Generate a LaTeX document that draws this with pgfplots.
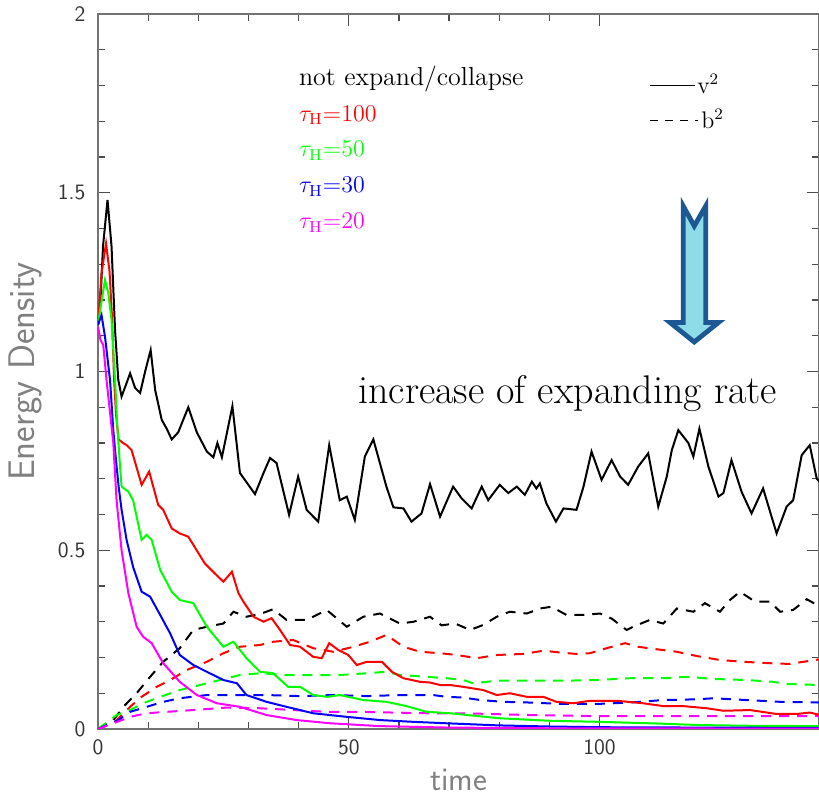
\documentclass[border=0pt]{standalone}
\usepackage{fontspec}
\usepackage{pgfplots}
\pgfplotsset{compat=1.18}

\definecolor{cRed}{RGB}{255,0,0}
\definecolor{cGreen}{RGB}{0,255,0}
\definecolor{cBlue}{RGB}{0,0,255}
\definecolor{cMag}{RGB}{255,0,255}
\definecolor{arrowFill}{RGB}{142,220,232}
\definecolor{arrowEdge}{RGB}{28,88,148}

\begin{document}
\begin{tikzpicture}
\begin{axis}[
  name=ax,
  scale only axis, width=360.5pt, height=357.5pt,
  xmin=0, xmax=143.75, ymin=0, ymax=2,
  axis line style={draw=black!55, line width=1pt},
  xtick={0,50,100}, ytick={0,0.5,1,1.5,2},
  minor x tick num=4, minor y tick num=4,
  tick align=inside,
  major tick length=6pt, minor tick length=3.5pt,
  every tick/.style={black!70, line width=0.6pt},
  /pgf/number format/assume math mode=true,
  tick label style={font=\fontsize{11}{13}\selectfont\sffamily, text=black!80},
  yticklabel style={xshift=-2.8pt},
  xticklabel style={yshift=-1.8pt},
  xlabel={time}, ylabel={Energy Density},
  label style={text=black!50},
  xlabel style={font=\fontsize{16.5}{19}\selectfont\sffamily,
                at={(rel axis cs:0.5,-0.0713)}, anchor=center},
  ylabel style={font=\fontsize{18.5}{21}\selectfont\sffamily,
                at={(rel axis cs:-0.10125,0.5)}, anchor=center},
  dashed curve/.style={line width=1pt, dash pattern=on 5pt off 4pt},
  solid curve/.style={line width=1pt},
]

% magnetic energy, b^2
\addplot[dashed curve, black] coordinates {
(0,0) (3.05,0.025) (5.4,0.067) (7.7,0.10) (10.4,0.146) (13.0,0.188) (16.3,0.226)
(19.0,0.277) (21.7,0.286) (25.0,0.295) (27.0,0.328) (29.6,0.314) (32.6,0.323)
(34.9,0.335) (37.6,0.305) (41.6,0.305) (45.6,0.333) (49.6,0.286) (52.9,0.314)
(56.2,0.323) (60.2,0.295) (62.9,0.30) (66.2,0.314) (68.5,0.29) (71.2,0.295)
(74.2,0.277) (76.8,0.291) (79.5,0.314) (82.1,0.328) (85.5,0.323) (88.1,0.337)
(90.4,0.342) (93.4,0.319) (96.8,0.319) (100.1,0.323) (102.4,0.309) (105.4,0.277)
(106.7,0.286) (110.0,0.305) (112.7,0.295) (115.4,0.337) (118.7,0.328) (121.0,0.352)
(124.0,0.328) (126.0,0.361) (128.0,0.384) (131.0,0.356) (134.0,0.356) (136.0,0.328)
(138.6,0.333) (141.3,0.363) (144,0.342)};

\addplot[dashed curve, cRed] coordinates {
(0,0) (3.4,0.02) (6.4,0.062) (8.7,0.09) (11.7,0.118) (14.4,0.137) (17.7,0.165)
(21.7,0.188) (25.0,0.212) (28.3,0.23) (32.3,0.235) (34.9,0.244) (38.9,0.249)
(42.9,0.226) (46.9,0.216) (50.9,0.23) (54.2,0.244) (57.5,0.263) (60.9,0.23)
(64.2,0.216) (68.2,0.212) (71.5,0.207) (75.5,0.198) (79.5,0.207) (84.8,0.21)
(88.8,0.219) (92.8,0.213) (95.4,0.21) (98.1,0.212) (101.4,0.226) (105.1,0.24)
(107.7,0.23) (111.4,0.223) (115.4,0.216) (119.4,0.204) (124.0,0.193) (128.6,0.188)
(134.0,0.184) (137.9,0.182) (140.6,0.188) (144,0.195)};

\addplot[dashed curve, cGreen] coordinates {
(0,0) (3.7,0.039) (6.4,0.053) (9.0,0.072) (12.4,0.09) (16.3,0.109) (20.3,0.123)
(24.3,0.137) (28.3,0.151) (32.3,0.156) (37.6,0.151) (42.9,0.151) (48.2,0.151)
(53.6,0.156) (57.5,0.16) (60.2,0.151) (65.5,0.146) (69.5,0.142) (72.8,0.137)
(74.8,0.128) (79.5,0.135) (86.1,0.135) (92.8,0.135) (99.4,0.137) (106.1,0.142)
(112.7,0.142) (117.4,0.146) (122.7,0.14) (129.3,0.137) (134.6,0.132) (137.3,0.126)
(144,0.123)};

\addplot[dashed curve, cBlue] coordinates {
(0,0) (4.05,0.025) (6.4,0.048) (9.7,0.062) (13.0,0.076) (16.3,0.086) (21.7,0.095)
(27.0,0.095) (33.6,0.095) (40.3,0.092) (46.9,0.095) (53.6,0.092) (60.2,0.095)
(66.8,0.095) (69.5,0.09) (72.8,0.088) (76.2,0.081) (80.8,0.076) (86.1,0.074)
(92.8,0.07) (99.4,0.07) (106.1,0.074) (112.7,0.081) (119.4,0.083) (122.7,0.086)
(129.3,0.081) (136.0,0.076) (144,0.074)};

\addplot[dashed curve, cMag] coordinates {
(0,0) (4.4,0.023) (6.4,0.034) (9.7,0.044) (13.7,0.048) (19.0,0.053) (25.7,0.06)
(32.3,0.058) (38.9,0.053) (45.6,0.048) (52.2,0.048) (58.9,0.046) (65.5,0.044)
(72.8,0.044) (86.1,0.039) (99.4,0.036) (112.7,0.036) (126.0,0.036) (144,0.036)};

% kinetic energy, v^2
\addplot[solid curve, black] coordinates {
(0,1.136) (0.5,1.2) (1.0,1.35) (1.9,1.48) (2.7,1.35) (3.4,1.116) (4.05,0.976)
(4.7,0.93) (5.5,0.96) (6.4,0.995) (7.4,0.954) (8.4,0.94) (9.4,1.0) (10.5,1.06)
(11.4,0.948) (12.7,0.865) (13.7,0.84) (14.7,0.81) (16.0,0.83) (18.0,0.90) (19.7,0.83)
(21.7,0.776) (23.0,0.76) (23.8,0.80) (24.7,0.76) (26.8,0.903) (28.3,0.716)
(31.3,0.657) (33.0,0.716) (34.3,0.758) (35.6,0.744) (38.1,0.599) (39.9,0.706)
(41.6,0.613) (43.9,0.58) (46.1,0.794) (48.2,0.64) (49.6,0.65) (51.2,0.585)
(53.2,0.762) (54.9,0.81) (57.5,0.678) (58.9,0.62) (60.9,0.617) (62.5,0.58)
(64.5,0.603) (66.2,0.685) (68.2,0.594) (70.8,0.678) (72.5,0.645) (74.5,0.617)
(76.5,0.678) (77.8,0.64) (80.1,0.683) (81.8,0.66) (83.5,0.678) (85.1,0.655)
(86.5,0.692) (87.4,0.673) (88.1,0.687) (89.4,0.631) (91.3,0.58) (92.8,0.617)
(95.4,0.613) (96.8,0.678) (98.4,0.776) (100.4,0.697) (102.4,0.752) (104.1,0.706)
(105.7,0.683) (107.7,0.734) (109.7,0.771) (111.7,0.622) (113.4,0.706) (114.4,0.78)
(115.7,0.836) (117.7,0.80) (118.7,0.762) (119.9,0.84) (121.7,0.734) (123.7,0.65)
(124.7,0.66) (126.3,0.752) (128.3,0.664) (130.3,0.603) (132.6,0.673) (135.3,0.547)
(137.3,0.622) (138.6,0.64) (140.3,0.766) (141.9,0.794) (143.3,0.70) (144,0.69)};

\addplot[solid curve, cRed] coordinates {
(0,1.13) (0.7,1.275) (1.6,1.358) (2.3,1.28) (2.8,1.15) (3.2,0.98) (3.6,0.88)
(4.1,0.81) (5.0,0.80) (5.7,0.794) (6.7,0.78) (8.7,0.683) (10.2,0.72) (12.0,0.627)
(13.0,0.613) (14.7,0.561) (16.3,0.547) (18.0,0.538) (21.3,0.463) (23.3,0.435)
(25.0,0.412) (26.7,0.44) (28.0,0.38) (29.0,0.356) (31.0,0.314) (33.0,0.30)
(34.6,0.31) (36.3,0.277) (38.3,0.235) (40.3,0.23) (42.9,0.202) (44.6,0.198)
(46.1,0.24) (47.9,0.221) (49.9,0.207) (51.6,0.179) (53.6,0.188) (56.6,0.188)
(58.6,0.16) (60.9,0.142) (64.2,0.132) (66.2,0.13) (68.2,0.123) (70.2,0.123)
(72.8,0.118) (76.8,0.109) (79.5,0.095) (82.1,0.10) (85.5,0.09) (88.8,0.09)
(91.4,0.076) (94.8,0.072) (98.1,0.079) (103.4,0.079) (108.7,0.072) (112.7,0.064)
(116.7,0.064) (121.4,0.058) (124.7,0.051) (130.0,0.053) (135.3,0.042) (139.3,0.042)
(141.9,0.046) (144,0.039)};

\addplot[solid curve, cGreen] coordinates {
(0,1.13) (0.4,1.17) (1.4,1.256) (2.05,1.22) (2.7,1.144) (3.4,0.976) (3.85,0.846)
(4.4,0.734) (4.7,0.678) (6.05,0.664) (7.0,0.64) (8.7,0.529) (9.7,0.543) (10.7,0.529)
(12.4,0.445) (14.7,0.384) (16.3,0.361) (19.0,0.352) (21.7,0.286) (25.0,0.23)
(27.0,0.244) (29.6,0.198) (32.3,0.16) (34.9,0.156) (37.9,0.118) (40.3,0.118)
(42.9,0.095) (45.6,0.09) (48.2,0.095) (52.9,0.081) (57.5,0.076) (61.5,0.064)
(65.5,0.048) (70.2,0.044) (80.1,0.03) (90.1,0.023) (100,0.02) (110,0.016)
(120,0.011) (130,0.009) (144,0.008)};

\addplot[solid curve, cBlue] coordinates {
(0,1.13) (0.7,1.158) (1.4,1.097) (2.4,0.976) (3.05,0.836) (3.6,0.75) (4.1,0.68)
(4.7,0.613) (5.7,0.529) (7.0,0.453) (8.7,0.384) (10.4,0.37) (12.4,0.319)
(14.4,0.267) (16.3,0.207) (19.0,0.179) (21.7,0.16) (25.0,0.137) (27.7,0.128)
(29.6,0.095) (33.6,0.076) (37.6,0.062) (42.9,0.044) (49.6,0.034) (56.2,0.025)
(62.9,0.02) (69.5,0.016) (80,0.01) (90,0.007) (100,0.005) (120,0.004) (144,0.003)};

\addplot[solid curve, cMag] coordinates {
(0,1.125) (0.5,1.088) (1.05,1.074) (1.7,0.976) (2.7,0.846) (3.05,0.80) (3.7,0.64)
(4.7,0.50) (6.05,0.38) (7.7,0.286) (9.0,0.258) (10.7,0.24) (13.0,0.184)
(16.3,0.132) (19.7,0.095) (23.7,0.072) (28.3,0.062) (33.6,0.039) (39.6,0.025)
(46.3,0.016) (56.2,0.008) (70,0.004) (90,0.002) (144,0.001)};

% run labels
\begin{scope}[every node/.style={anchor=base west, inner sep=0pt,
    font=\fontsize{12}{14}\selectfont}]
  \node[font=\fontsize{13}{15}\selectfont] at (axis cs:40,1.8) {not expand/collapse};
  \node[text=cRed]   at (axis cs:40,1.7) {$\tau_{\mathrm{H}}$=100};
  \node[text=cGreen] at (axis cs:40,1.6) {$\tau_{\mathrm{H}}$=50};
  \node[text=cBlue]  at (axis cs:40,1.5) {$\tau_{\mathrm{H}}$=30};
  \node[text=cMag]   at (axis cs:40,1.4) {$\tau_{\mathrm{H}}$=20};
  \node at (axis cs:119.4,1.778) {v$^2$};
  \node at (axis cs:120.2,1.680) {b$^2$};
\end{scope}
\draw[black, line width=0.6pt] (axis cs:110.05,1.801) -- (axis cs:119.0,1.801);
\draw[black, line width=0.6pt, dash pattern=on 4pt off 3.5pt]
  (axis cs:110.05,1.7016) -- (axis cs:119.6,1.7016);

% block arrow and caption
\draw[draw=arrowEdge, fill=arrowFill, line width=2.4pt, miter limit=10]
  (axis cs:116.67,1.463) -- (axis cs:118.88,1.407) -- (axis cs:121.17,1.463)
  -- (axis cs:121.17,1.137) -- (axis cs:123.7,1.137) -- (axis cs:118.88,1.0825)
  -- (axis cs:114.04,1.137) -- (axis cs:116.67,1.137) -- cycle;
\node[anchor=base west, inner sep=0pt, font=\fontsize{20}{24}\selectfont]
  at (axis cs:51.83,0.911) {increase of expanding rate};
\end{axis}
\pgfresetboundingbox
\path[use as bounding box] ([xshift=-49pt,yshift=-34pt]ax.south west)
  rectangle ([yshift=7pt]ax.north east);
\end{tikzpicture}
\end{document}
